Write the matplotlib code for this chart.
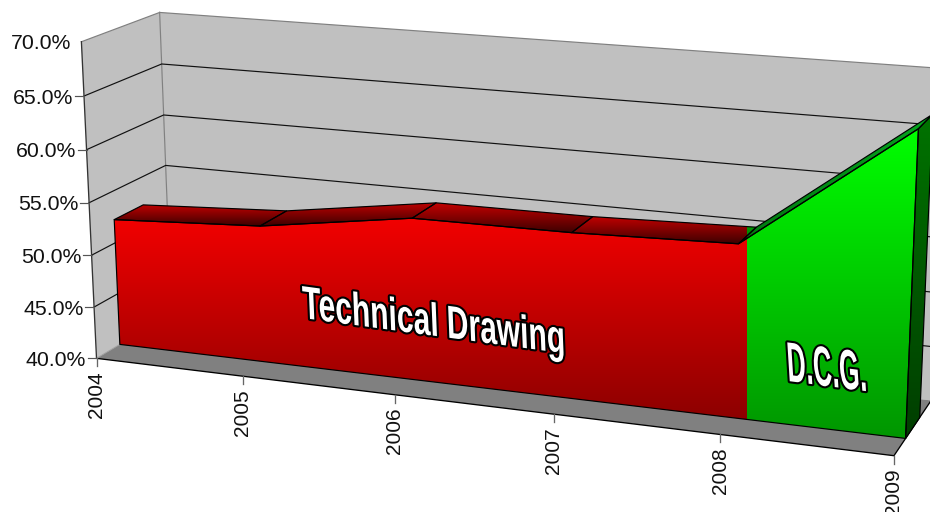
import numpy as np
import matplotlib
matplotlib.use("Agg")
import matplotlib.pyplot as plt
from matplotlib.patches import Polygon
from matplotlib.patheffects import AbstractPathEffect
from matplotlib.transforms import Affine2D, Bbox

# ---- data ----
years = [2004, 2005, 2006, 2007, 2008, 2009]
share = [52.25, 53.05, 55.2, 55.3, 55.75, 67.05]
pct_ticks = [40, 45, 50, 55, 60, 65, 70]
pct_labels = ["40.0%", "45.0%", "50.0%", "55.0%", "60.0%", "65.0%", "70.0%"]
series_labels = ["Technical Drawing", "D.C.G."]

# ---- camera: box corners (year, pct, depth) seen at these picture positions ----
box_corners = [
    ((2004, 40, 0), (96, 358)), ((2009, 40, 0), (893, 456)),
    ((2004, 70, 0), (82, 41)), ((2009, 70, 0), (909, 106)),
    ((2004, 40, 1), (172, 314)), ((2009, 40, 1), (932, 400)),
    ((2004, 70, 1), (159, 13)), ((2009, 70, 1), (945, 68)),
]
DEPTH_FRONT, DEPTH_BACK = 0.30, 0.68
COLOR_SPLIT_X = 746.5


def fit_camera(pairs):
    rows = []
    for (x, z, d), (u, v) in pairs:
        X = [x - 2004, (z - 40) / 5.0, d, 1.0]
        rows.append(X + [0, 0, 0, 0] + [-u * c for c in X])
        rows.append([0, 0, 0, 0] + X + [-v * c for c in X])
    return np.linalg.svd(np.array(rows))[2][-1].reshape(3, 4)


CAM = fit_camera(box_corners)


def project(x, z, d):
    p = CAM @ np.array([x - 2004, (z - 40) / 5.0, d, 1.0])
    return float(p[0] / p[2]), float(p[1] / p[2])


class Squeezed(AbstractPathEffect):
    """Outlined glyphs, condensed and sheared as on the 3D face."""

    def __init__(self, sx, sy, shear, lw):
        super().__init__()
        self.sx, self.sy, self.shear, self.lw = sx, sy, shear, lw

    def draw_path(self, renderer, gc, tpath, affine, rgbFace=None):
        aff = Affine2D().scale(self.sx, self.sy).skew_deg(self.shear, 0) + affine
        g = renderer.new_gc()
        g.copy_properties(gc)
        g.set_linewidth(self.lw)
        g.set_foreground("black")
        g.set_joinstyle("round")
        renderer.draw_path(g, tpath, aff, None)
        g.restore()
        renderer.draw_path(gc, tpath, aff, rgbFace)


fig = plt.figure(figsize=(9.3, 5.12), dpi=100)
ax = fig.add_axes([0, 0, 1, 1])
ax.set_axis_off()
W, H = 930, 512


def c(r, g, b):
    return np.array([r, g, b]) / 255.0


def shade(verts, top, bottom, y0=None, y1=None, xmin=None, xmax=None, zorder=3):
    verts = np.array(verts)
    ys = verts[:, 1]
    y0 = ys.min() if y0 is None else y0
    y1 = ys.max() if y1 is None else y1
    t = np.linspace(0, 1, 256)[:, None, None]
    img = (1 - t) * top[None, None, :] + t * bottom[None, None, :]
    im = ax.imshow(img, extent=(-50, W + 100, y1, y0), aspect="auto",
                   interpolation="bilinear", zorder=zorder)
    im.set_clip_path(Polygon(verts, closed=True, transform=ax.transData))
    if xmin is not None or xmax is not None:
        im.set_clip_box(Bbox.from_extents(xmin or 0, 0, xmax or W, H))
    return im


def outline(verts, color="black", lw=0.85, closed=True, zorder=4):
    ax.add_patch(Polygon(verts, closed=closed, fill=False, edgecolor=color,
                         linewidth=lw, zorder=zorder, joinstyle="round"))


x0, x1 = years[0], years[-1]
zlo, zhi = pct_ticks[0], pct_ticks[-1]
wall = "#c0c0c0"
edge = "#808080"

# walls and floor
back = [project(x0, zlo, 1), project(x1, zlo, 1), project(x1, zhi, 1), project(x0, zhi, 1)]
left = [project(x0, zlo, 0), project(x0, zlo, 1), project(x0, zhi, 1), project(x0, zhi, 0)]
floor = [project(x0, zlo, 0), project(x1, zlo, 0), project(x1, zlo, 1), project(x0, zlo, 1)]
ax.add_patch(Polygon(back, closed=True, facecolor=wall, edgecolor="none", zorder=1))
ax.add_patch(Polygon(left, closed=True, facecolor=wall, edgecolor="none", zorder=1))
ax.add_patch(Polygon(floor, closed=True, facecolor=edge, edgecolor="none", zorder=1))
for a, b in [(back[3], back[2]), (left[3], left[2]), (left[2], left[1])]:
    ax.plot(*zip(a, b), color=edge, lw=0.85, zorder=2)

for p in pct_ticks[1:-1]:
    pts = [project(x0, p, 0), project(x0, p, 1), project(x1, p, 1)]
    ax.plot(*zip(*pts), color="#111111", lw=0.85, zorder=2)
ax.plot(*zip(left[3], left[0]), color="#333333", lw=0.95, zorder=2)
ax.plot(*zip(floor[0], floor[1], floor[2]), color="black", lw=0.95, zorder=2)
ax.plot(*zip(left[0], left[1]), color="#a0a0a0", lw=0.7, zorder=2)

# value axis ticks and labels
for p, lab in zip(pct_ticks, pct_labels):
    u, v = project(x0, p, 0)
    if p != zhi:
        ax.plot([u - 9, u], [v, v], color="#555555", lw=0.85, zorder=2)
    ax.text(u - 10.5, v, lab, ha="right", va="center_baseline", fontsize=15.3,
            family="Liberation Sans", color="#111111", zorder=6)

# year axis ticks and labels
for yr in years:
    u, v = project(yr, zlo, 0)
    ax.plot([u, u], [v, v + 8], color="#666666", lw=0.95, zorder=2)
    ax.text(u, v + 13, str(yr), rotation=90, ha="center", va="top", fontsize=15,
            family="Liberation Sans", color="#111111", zorder=6)

# series
front_top = [project(y, s, DEPTH_FRONT) for y, s in zip(years, share)]
back_top = [project(y, s, DEPTH_BACK) for y, s in zip(years, share)]
front_base = [project(x0, zlo, DEPTH_FRONT), project(x1, zlo, DEPTH_FRONT)]
back_base = project(x1, zlo, DEPTH_BACK)
front_poly = [front_base[0]] + front_top + [front_base[1]]

red_span = [front_base[0]] + front_top[:-1] + [(COLOR_SPLIT_X, 420)]
shade(front_poly, c(242, 0, 0), c(140, 0, 0), y0=min(v for _, v in red_span),
      y1=max(v for _, v in red_span), xmax=COLOR_SPLIT_X)
shade(front_poly, c(0, 255, 0), c(0, 150, 0), xmin=COLOR_SPLIT_X)

for i in range(len(years) - 1):
    facet = [front_top[i], front_top[i + 1], back_top[i + 1], back_top[i]]
    if i < len(years) - 2:
        shade(facet, c(195, 0, 0), c(60, 0, 0), xmax=COLOR_SPLIT_X)
        shade(facet, c(0, 170, 0), c(0, 120, 0), xmin=COLOR_SPLIT_X)
    else:
        shade(facet, c(80, 0, 0), c(60, 0, 0), y0=front_top[i][1] - 12, y1=front_top[i][1],
              xmax=COLOR_SPLIT_X)
        shade(facet, c(5, 165, 30), c(0, 120, 15), xmin=COLOR_SPLIT_X)
    outline(facet)

side = [front_top[-1], back_top[-1], back_base, front_base[1]]
shade(side, c(0, 115, 0), c(0, 62, 0))
outline(side)
outline(front_poly)

# series names on the front face
ax.text(303, 318, series_labels[0], rotation=-7.7, rotation_mode="anchor", ha="left",
        va="baseline", fontsize=33, fontweight="bold", family="Liberation Sans", color="white",
        path_effects=[Squeezed(0.66, 1.0, -10, 3.0)], zorder=8)
ax.text(788, 381, series_labels[1], rotation=-7.4, rotation_mode="anchor", ha="left",
        va="baseline", fontsize=24, fontweight="bold", family="Liberation Sans", color="white",
        path_effects=[Squeezed(0.79, 1.667, -11, 3.0)], zorder=8)

ax.set_xlim(0, W)
ax.set_ylim(H, 0)
fig.savefig("out.png", dpi=100)
